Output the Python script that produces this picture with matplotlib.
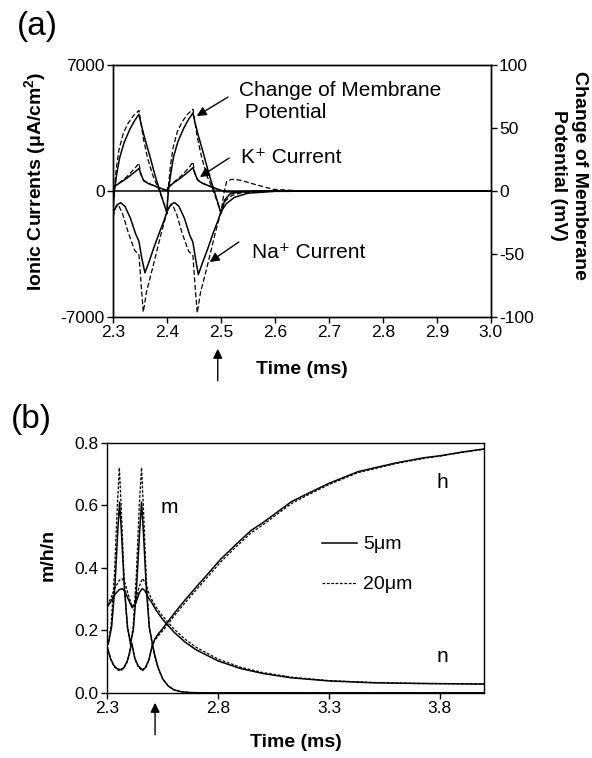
import numpy as np
import matplotlib.pyplot as plt

plt.rcParams['font.family'] = ['Liberation Sans', 'DejaVu Sans']
plt.rcParams['mathtext.default'] = 'regular'
plt.rcParams['axes.unicode_minus'] = False

# ---- panel (a): ionic currents (uA/cm2) and membrane potential (mV) ----
# membrane potential, 5 um (solid)
v5_t = [2.300, 2.301, 2.303, 2.307, 2.312, 2.320, 2.331, 2.340, 2.348, 2.351, 2.358, 2.368, 2.378, 2.389,
        2.398, 2.400, 2.401, 2.403, 2.407, 2.412, 2.420, 2.431, 2.440, 2.448, 2.451, 2.458, 2.468,
        2.478, 2.489, 2.498, 2.500, 2.507, 2.5165, 2.535, 2.570, 3.000]
v5 = [-20, -8, 2, 14, 26, 38, 49, 56, 61, 55, 43, 28, 12, -3,
      -15, -18, -8, 2, 14, 27, 39, 50, 57, 62, 56, 44, 29,
      13, -2, -15, -18, -7, -2.4, -0.5, 0, 0]
# membrane potential, 20 um (dashed)
v20_t = [2.300, 2.301, 2.303, 2.306, 2.311, 2.319, 2.328, 2.338, 2.348, 2.351, 2.356, 2.364, 2.374, 2.386,
         2.396, 2.400, 2.401, 2.403, 2.406, 2.411, 2.419, 2.428, 2.438, 2.448, 2.451, 2.456, 2.464,
         2.474, 2.486, 2.496, 2.500, 2.5053, 2.5103, 2.5195, 2.535, 2.560, 2.597, 2.646, 2.700, 3.000]
v20 = [-17, -6, 4, 18, 33, 46, 54, 60, 64, 56, 42, 26, 12, 0,
       -12, -17, -6, 5, 19, 34, 47, 55, 61, 65, 57, 43, 27,
       12, 0, -12, -17, -1.9, 7.4, 9.3, 8.7, 5.6, 1.3, 0.2, 0, 0]
# K+ current
k5_t = [2.300, 2.310, 2.325, 2.340, 2.348, 2.352, 2.357, 2.365, 2.380, 2.395, 2.400,
        2.402, 2.410, 2.425, 2.440, 2.448, 2.452, 2.457, 2.465, 2.480, 2.495, 2.500,
        2.510, 2.530, 2.560, 2.600, 3.000]
k5 = [200, 400, 700, 1050, 1250, 900, 560, 420, 250, 80, 30,
      200, 400, 720, 1080, 1300, 950, 600, 440, 260, 90, 40,
      -40, -60, -30, 0, 0]
k20_t = [2.300, 2.310, 2.325, 2.340, 2.348, 2.351, 2.356, 2.365, 2.380, 2.395, 2.400,
         2.402, 2.410, 2.425, 2.440, 2.448, 2.451, 2.456, 2.465, 2.480, 2.495, 2.500,
         2.510, 2.530, 2.560, 2.600, 3.000]
k20 = [150, 420, 780, 1250, 1550, 1000, 620, 430, 240, 60, 20,
       180, 430, 800, 1270, 1620, 1050, 650, 440, 250, 70, 20,
       -30, -50, -20, 0, 0]
# Na+ current
na5_t = [2.300, 2.307, 2.314, 2.322, 2.332, 2.342, 2.348, 2.353, 2.359, 2.366, 2.375, 2.386, 2.395, 2.400,
         2.407, 2.414, 2.422, 2.432, 2.442, 2.448, 2.453, 2.458, 2.465, 2.475, 2.486, 2.495, 2.500,
         2.510, 2.525, 2.550, 2.600, 2.700, 3.000]
na5 = [-1200, -780, -650, -850, -1500, -2400, -2800, -3700, -4550, -4000, -3200, -2300, -1600, -1150,
       -750, -640, -850, -1500, -2450, -2850, -3800, -4650, -4050, -3250, -2300, -1600, -1150,
       -700, -350, -120, -20, 0, 0]
na20_t = [2.300, 2.305, 2.310, 2.318, 2.328, 2.340, 2.348, 2.352, 2.356, 2.362, 2.374, 2.388, 2.400,
          2.405, 2.410, 2.418, 2.428, 2.440, 2.448, 2.452, 2.456, 2.462, 2.474, 2.488, 2.500,
          2.508, 2.520, 2.540, 2.580, 2.650, 3.000]
na20 = [-1450, -900, -780, -1300, -2300, -3300, -3560, -5200, -6730, -5600, -4200, -2500, -1150,
        -850, -760, -1300, -2350, -3350, -3600, -5300, -6780, -5650, -4250, -2500, -1150,
        -550, -250, -80, -10, 0, 0]

# ---- panel (b): gating variables ----
m5_t = [2.300, 2.306, 2.320, 2.335, 2.348, 2.356, 2.364, 2.378, 2.392, 2.405, 2.418, 2.432, 2.446,
        2.455, 2.463, 2.477, 2.490, 2.503, 2.515, 2.530, 2.550, 2.575, 2.600, 2.630, 2.670, 2.720, 4.000]
m5 = [0.170, 0.160, 0.210, 0.340, 0.520, 0.610, 0.520, 0.330, 0.210, 0.160, 0.200, 0.330, 0.510,
      0.610, 0.520, 0.330, 0.210, 0.160, 0.120, 0.080, 0.045, 0.022, 0.010, 0.004, 0.001, 0.000, 0.000]
m20_t = [2.300, 2.305, 2.318, 2.333, 2.346, 2.355, 2.363, 2.376, 2.391, 2.405, 2.417, 2.431, 2.445,
         2.455, 2.463, 2.476, 2.490, 2.503, 2.515, 2.530, 2.550, 2.575, 2.600, 2.630, 2.670, 2.720, 4.000]
m20 = [0.175, 0.155, 0.220, 0.380, 0.600, 0.720, 0.600, 0.370, 0.210, 0.155, 0.210, 0.370, 0.600,
       0.720, 0.600, 0.370, 0.210, 0.155, 0.115, 0.078, 0.045, 0.022, 0.010, 0.004, 0.001, 0.000, 0.000]
h5_t = [2.300, 2.315, 2.330, 2.345, 2.360, 2.375, 2.390, 2.400, 2.410, 2.425, 2.440, 2.458, 2.472,
        2.488, 2.503, 2.515, 2.530, 2.550, 2.570, 2.600, 2.650, 2.700, 2.750, 2.810, 2.880, 2.950,
        3.000, 3.130, 3.200, 3.300, 3.430, 3.600, 3.730, 3.800, 3.900, 4.000]
h5 = [0.147, 0.110, 0.088, 0.077, 0.074, 0.080, 0.100, 0.125, 0.160, 0.110, 0.086, 0.074, 0.080,
      0.105, 0.150, 0.172, 0.188, 0.205, 0.224, 0.252, 0.296, 0.337, 0.377, 0.426, 0.474, 0.520,
      0.543, 0.611, 0.636, 0.670, 0.707, 0.735, 0.752, 0.758, 0.770, 0.780]
h20_t = [2.300, 2.315, 2.330, 2.345, 2.360, 2.375, 2.390, 2.400, 2.410, 2.425, 2.440, 2.458, 2.472,
         2.488, 2.503, 2.515, 2.530, 2.550, 2.570, 2.600, 2.650, 2.700, 2.750, 2.810, 2.880, 2.950,
         3.000, 3.130, 3.200, 3.300, 3.430, 3.600, 3.730, 3.800, 3.900, 4.000]
h20 = [0.150, 0.108, 0.085, 0.074, 0.070, 0.078, 0.098, 0.124, 0.160, 0.108, 0.083, 0.070, 0.078,
       0.104, 0.150, 0.168, 0.182, 0.198, 0.216, 0.244, 0.287, 0.328, 0.368, 0.417, 0.466, 0.512,
       0.536, 0.605, 0.631, 0.666, 0.704, 0.733, 0.750, 0.757, 0.769, 0.779]
n5_t = [2.300, 2.315, 2.335, 2.355, 2.367, 2.380, 2.395, 2.413, 2.428, 2.445, 2.458, 2.470, 2.485,
        2.500, 2.520, 2.550, 2.600, 2.650, 2.700, 2.800, 2.900, 3.000, 3.130, 3.300, 3.500, 3.700, 4.000]
n5 = [0.275, 0.290, 0.315, 0.330, 0.333, 0.325, 0.300, 0.272, 0.285, 0.320, 0.333, 0.327, 0.305,
      0.290, 0.265, 0.235, 0.195, 0.163, 0.138, 0.102, 0.078, 0.062, 0.048, 0.038, 0.032, 0.030, 0.028]
n20_t = [2.300, 2.315, 2.335, 2.355, 2.367, 2.380, 2.395, 2.413, 2.428, 2.445, 2.458, 2.470, 2.485,
         2.500, 2.520, 2.550, 2.600, 2.650, 2.700, 2.800, 2.900, 3.000, 3.130, 3.300, 3.500, 3.700, 4.000]
n20 = [0.280, 0.300, 0.335, 0.360, 0.365, 0.352, 0.315, 0.275, 0.292, 0.340, 0.365, 0.355, 0.325,
       0.300, 0.275, 0.245, 0.205, 0.172, 0.146, 0.108, 0.082, 0.065, 0.050, 0.039, 0.033, 0.030, 0.028]

sizes = ['5\u03bcm', '20\u03bcm']

solid = dict(color='black', lw=1.1, ls='-')
dash_a = dict(color='black', lw=0.9, ls=(0, (4, 2)))
dash_b = dict(color='black', lw=0.9, ls=(0, (2.2, 1.3)))

fig = plt.figure(figsize=(5.92, 7.58), dpi=100)

# ---------------- (a) ----------------
ax = fig.add_axes([0.191, 0.582, 0.638, 0.332])
ax2 = ax.twinx()
ax.plot(k5_t, k5, **solid)
ax.plot(k20_t, k20, **dash_a)
ax.plot(na5_t, na5, **solid)
ax.plot(na20_t, na20, **dash_a)
ax2.plot(v5_t, v5, **solid)
ax2.plot(v20_t, v20, **dash_a)
ax.axhline(0, color='black', lw=1.1)

ax.set_xlim(2.3, 3.0)
ax.set_ylim(-7000, 7000)
ax2.set_ylim(-100, 100)
ax.set_xticks([2.3, 2.4, 2.5, 2.6, 2.7, 2.8, 2.9, 3.0])
ax.set_xticklabels(['2.3', '2.4', '2.5', '2.6', '2.7', '2.8', '2.9', '3.0'])
ax.set_yticks([-7000, 0, 7000])
ax.set_yticklabels(['-7000', '0', '7000'])
ax2.set_yticks([-100, -50, 0, 50, 100])
ax2.set_yticklabels(['-100', '-50', '0', '50', '100'])
for a in (ax, ax2):
    a.tick_params(direction='out', length=4, width=1, labelsize=12.5, pad=2)
    for s in a.spines.values():
        s.set_linewidth(1.0)
ax.set_xlabel('Time (ms)', fontsize=14, fontweight='bold')
ax.xaxis.set_label_coords(0.5, -0.175)
ax.set_ylabel('Ionic Currents (\u03bcA/cm$^2$)', fontsize=14, fontweight='bold')
ax.yaxis.set_label_coords(-0.171, 0.54)
fig.text(0.961, 0.769, 'Change of Memberane\nPotential (mV)', fontsize=14, fontweight='bold',
         rotation=270, ha='center', va='center', multialignment='center', linespacing=1.35)

arrow = dict(arrowstyle='-|>', color='black', lw=1.0, mutation_scale=14, shrinkA=0, shrinkB=0)
ax.text(2.5335, 4978, 'Change of Membrane\n Potential', fontsize=15, ha='left', va='center')
ax.annotate('', xy=(2.455, 4171), xytext=(2.513, 5228), arrowprops=arrow)
ax.text(2.538, 1891, 'K\u207a Current', fontsize=15, ha='left', va='center')
ax.annotate('', xy=(2.461, 779), xytext=(2.515, 1835), arrowprops=arrow)
ax.text(2.557, -3393, 'Na\u207a Current', fontsize=15, ha='left', va='center')
ax.annotate('', xy=(2.479, -3949), xytext=(2.533, -2837), arrowprops=arrow)

ax.annotate('', xy=(2.494, -0.127), xytext=(2.494, -0.254),
            xycoords=('data', 'axes fraction'), textcoords=('data', 'axes fraction'),
            arrowprops=arrow, annotation_clip=False)

# ---------------- (b) ----------------
bx = fig.add_axes([0.181, 0.086, 0.637, 0.330])
l1, = bx.plot(m5_t, m5, **solid)
l2, = bx.plot(m20_t, m20, **dash_b)
bx.plot(h5_t, h5, **solid)
bx.plot(h20_t, h20, **dash_b)
bx.plot(n5_t, n5, **solid)
bx.plot(n20_t, n20, **dash_b)

bx.set_xlim(2.3, 4.0)
bx.set_ylim(0, 0.8)
bx.set_xticks([2.3, 2.8, 3.3, 3.8])
bx.set_xticklabels(['2.3', '2.8', '3.3', '3.8'])
bx.set_yticks([0.0, 0.2, 0.4, 0.6, 0.8])
bx.set_yticklabels(['0.0', '0.2', '0.4', '0.6', '0.8'])
bx.tick_params(direction='out', length=4, width=1, labelsize=12.5, pad=2)
for s in bx.spines.values():
    s.set_linewidth(1.0)
bx.set_xlabel('Time (ms)', fontsize=14, fontweight='bold')
bx.xaxis.set_label_coords(0.5, -0.165)
bx.set_ylabel('m/h/n', fontsize=14, fontweight='bold')
bx.yaxis.set_label_coords(-0.133, 0.55)

bx.text(2.539, 0.576, 'm', fontsize=15, va='baseline')
bx.text(3.786, 0.656, 'h', fontsize=15, va='baseline')
bx.text(3.786, 0.099, 'n', fontsize=15, va='baseline')
bx.legend([l1, l2], sizes, loc='upper left', bbox_to_anchor=(0.57, 0.628), frameon=False,
          fontsize=14, handlelength=1.8, handletextpad=0.3, labelspacing=1.15,
          borderpad=0, borderaxespad=0)

bx.annotate('', xy=(2.516, -0.04), xytext=(2.516, -0.168),
            xycoords=('data', 'axes fraction'), textcoords=('data', 'axes fraction'),
            arrowprops=arrow, annotation_clip=False)

fig.text(0.028, 0.965, '(a)', fontsize=24, va='center', ha='left')
fig.text(0.018, 0.446, '(b)', fontsize=24, va='center', ha='left')

fig.savefig('out.png', dpi=100)
